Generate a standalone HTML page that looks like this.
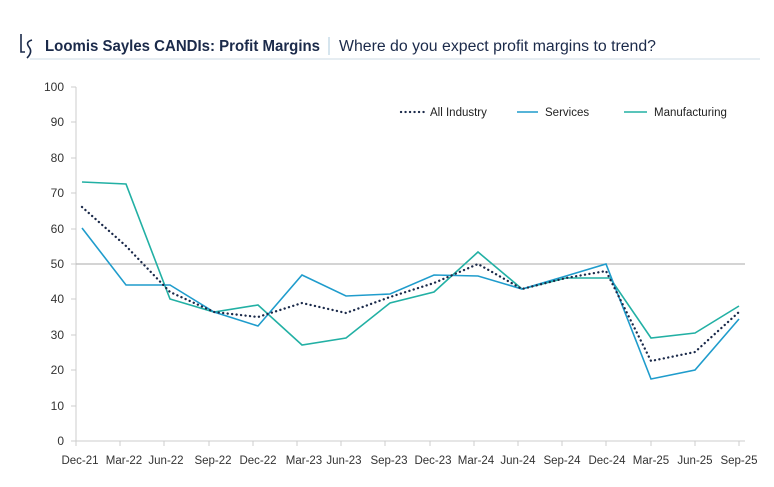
<!DOCTYPE html>
<html><head><meta charset="utf-8"><style>
body{margin:0;background:#fff;width:774px;height:482px;overflow:hidden;font-family:"Liberation Sans",sans-serif}
</style></head><body>
<svg width="774" height="482" xmlns="http://www.w3.org/2000/svg" font-family="Liberation Sans, sans-serif">
<path d="M21 34 L21 52 L25 52 M32 40 Q25 42 29 47 Q33 52 27 58" stroke="#1b2a4a" stroke-width="1.6" fill="none"/>
<text x="45" y="51" font-size="15.5" font-weight="bold" fill="#1b2a4a" textLength="275" lengthAdjust="spacingAndGlyphs">Loomis Sayles CANDIs: Profit Margins</text>
<line x1="329" y1="37" x2="329" y2="55" stroke="#c8dce8" stroke-width="1.5"/>
<text x="339" y="51" font-size="15.5" fill="#1b2a4a" textLength="317" lengthAdjust="spacingAndGlyphs">Where do you expect profit margins to trend?</text>
<line x1="30" y1="59" x2="760" y2="59" stroke="#d6e2ea" stroke-width="1.2"/>
<g font-size="12" fill="#333" text-anchor="end">
<text x="64" y="91">100</text><text x="64" y="126">90</text><text x="64" y="162">80</text><text x="64" y="197">70</text><text x="64" y="233">60</text><text x="64" y="268">50</text><text x="64" y="303">40</text><text x="64" y="339">30</text><text x="64" y="374">20</text><text x="64" y="410">10</text><text x="64" y="445">0</text>
</g>
<g stroke="#ccc" stroke-width="1">
<line x1="76" y1="87" x2="76" y2="441"/>
<line x1="71" y1="441" x2="745" y2="441"/>
<path d="M71 87h5M71 122h5M71 158h5M71 193h5M71 229h5M71 264h5M71 299h5M71 335h5M71 370h5M71 406h5"/>
<path d="M76 441v5M120 441v5M164 441v5M209 441v5M253 441v5M297 441v5M341 441v5M385 441v5M430 441v5M474 441v5M518 441v5M562 441v5M606 441v5M651 441v5M695 441v5M739 441v5"/>
</g>
<line x1="76" y1="264" x2="745" y2="264" stroke="#bbb" stroke-width="1.3"/>
<g font-size="11.5" fill="#333" text-anchor="middle">
<text x="80" y="464">Dec-21</text><text x="124" y="464">Mar-22</text><text x="166" y="464">Jun-22</text><text x="213" y="464">Sep-22</text><text x="258" y="464">Dec-22</text><text x="304" y="464">Mar-23</text><text x="344" y="464">Jun-23</text><text x="389" y="464">Sep-23</text><text x="433" y="464">Dec-23</text><text x="476" y="464">Mar-24</text><text x="518" y="464">Jun-24</text><text x="562" y="464">Sep-24</text><text x="607" y="464">Dec-24</text><text x="651" y="464">Mar-25</text><text x="695" y="464">Jun-25</text><text x="739" y="464">Sep-25</text>
</g>
<polyline fill="none" stroke="#22b0a4" stroke-width="1.6" points="82,182 126,184 170,299 214,312 258,305 302,345 346,338 390,303 434,292 478,252 522,289 566,278 610,278 651,338 695,333 739,306"/>
<polyline fill="none" stroke="#1f9ccc" stroke-width="1.6" points="82,228 126,285 170,285 214,312 258,326 302,275 346,296 390,294 434,275 478,276 522,289 566,276 606,264 651,379 695,370 739,319"/>
<polyline fill="none" stroke="#1b2a4a" stroke-width="2.3" stroke-dasharray="0.1 4.4" stroke-linecap="round" points="82,207 126,246 170,292 214,312 258,317 302,303 346,313 390,297 434,283 478,264 522,289 566,278 606,271 651,361 695,352 739,312"/>
<line x1="401" y1="112" x2="424" y2="112" stroke="#1b2a4a" stroke-width="2.3" stroke-dasharray="0.1 4.4" stroke-linecap="round"/>
<text x="430" y="116" font-size="11.5" fill="#222">All Industry</text>
<line x1="517" y1="112" x2="538" y2="112" stroke="#1f9ccc" stroke-width="1.6"/>
<text x="545" y="116" font-size="11.5" fill="#222">Services</text>
<line x1="624" y1="112" x2="647" y2="112" stroke="#22b0a4" stroke-width="1.6"/>
<text x="654" y="116" font-size="11.5" fill="#222">Manufacturing</text>
</svg>
</body></html>
